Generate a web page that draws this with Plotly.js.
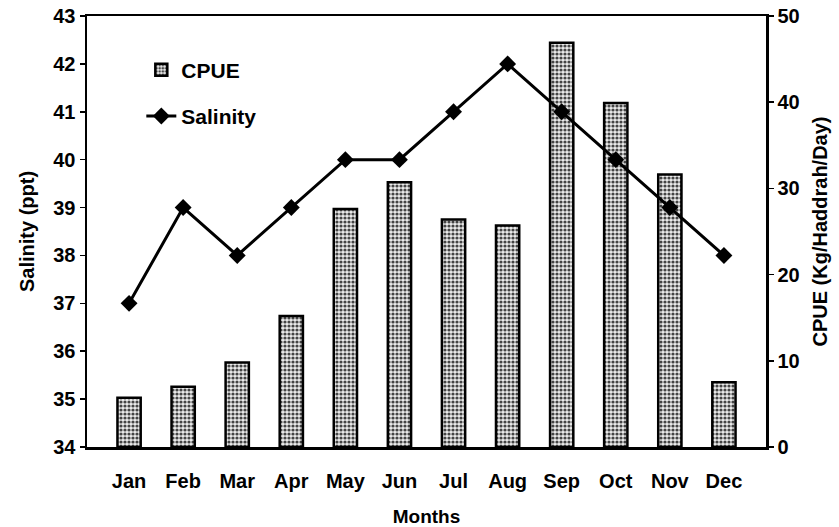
<!DOCTYPE html>
<html><head><meta charset="utf-8">
<script src="https://cdn.plot.ly/plotly-3.0.1.min.js"></script>
<style>html,body{margin:0;padding:0;background:#fff}#chart{width:839px;height:527px}</style>
</head><body><div id="chart"></div>
<script>
const months = ["Jan","Feb","Mar","Apr","May","Jun","Jul","Aug","Sep","Oct","Nov","Dec"];
const cpue = [5.7, 7.0, 9.8, 15.2, 27.6, 30.7, 26.4, 25.7, 46.9, 39.9, 31.6, 7.5];
const salinity = [37, 39, 38, 39, 40, 40, 41, 42, 41, 40, 39, 38];

const F = {family: "Liberation Sans, Arial, sans-serif", weight: "bold", color: "#000"};
const f = s => Object.assign({size: s}, F);

const traces = [
  {
    type: "bar", name: "CPUE", x: months, y: cpue, yaxis: "y", legendgroup: "a",
    width: 0.43,
    marker: {color: "#cccccc", line: {color: "#000", width: 2.5},
      pattern: {shape: ".", size: 4, solidity: 0.5, fgcolor: "#444", bgcolor: "#ebebeb", fillmode: "replace"}}
  },
  {
    type: "scatter", mode: "lines+markers", name: "Salinity", x: months, y: salinity, yaxis: "y2", legendgroup: "b",
    line: {color: "#000", width: 3},
    marker: {symbol: "diamond", size: 13, color: "#000"}
  }
];

const layout = {
  width: 839, height: 527,
  margin: {l: 87, r: 73, t: 16, b: 80},
  paper_bgcolor: "#fff", plot_bgcolor: "#fff",
  font: f(18),
  showlegend: true,
  legend: {x: 0.08, y: 0.922, xanchor: "left", yanchor: "top", bgcolor: "rgba(0,0,0,0)",
    font: f(21), tracegroupgap: 16},
  xaxis: {
    type: "category", showline: true, linecolor: "#000", linewidth: 2.5, mirror: true,
    ticks: "", showgrid: false, zeroline: false, ticklabelstandoff: 14,
    tickfont: f(20),
    title: {text: "Months", font: f(19), standoff: 19}
  },
  yaxis: {
    side: "right", range: [0, 50], dtick: 10, showgrid: false, zeroline: false,
    showline: true, linecolor: "#000", linewidth: 2.5,
    ticks: "outside", ticklen: 5, tickwidth: 1.5, tickcolor: "#000",
    tickfont: f(20),
    title: {text: "CPUE (Kg/Haddrah/Day)", font: f(20), standoff: 14}
  },
  yaxis2: {
    side: "left", overlaying: "y", range: [34, 43], dtick: 1, showgrid: false, zeroline: false,
    showline: true, linecolor: "#000", linewidth: 2.5,
    ticks: "outside", ticklen: 5, tickwidth: 1.5, tickcolor: "#000",
    tickfont: f(20),
    title: {text: "Salinity (ppt)", font: f(20), standoff: 14}
  }
};

Plotly.newPlot("chart", traces, layout, {displayModeBar: false, staticPlot: true});
</script></body></html>
